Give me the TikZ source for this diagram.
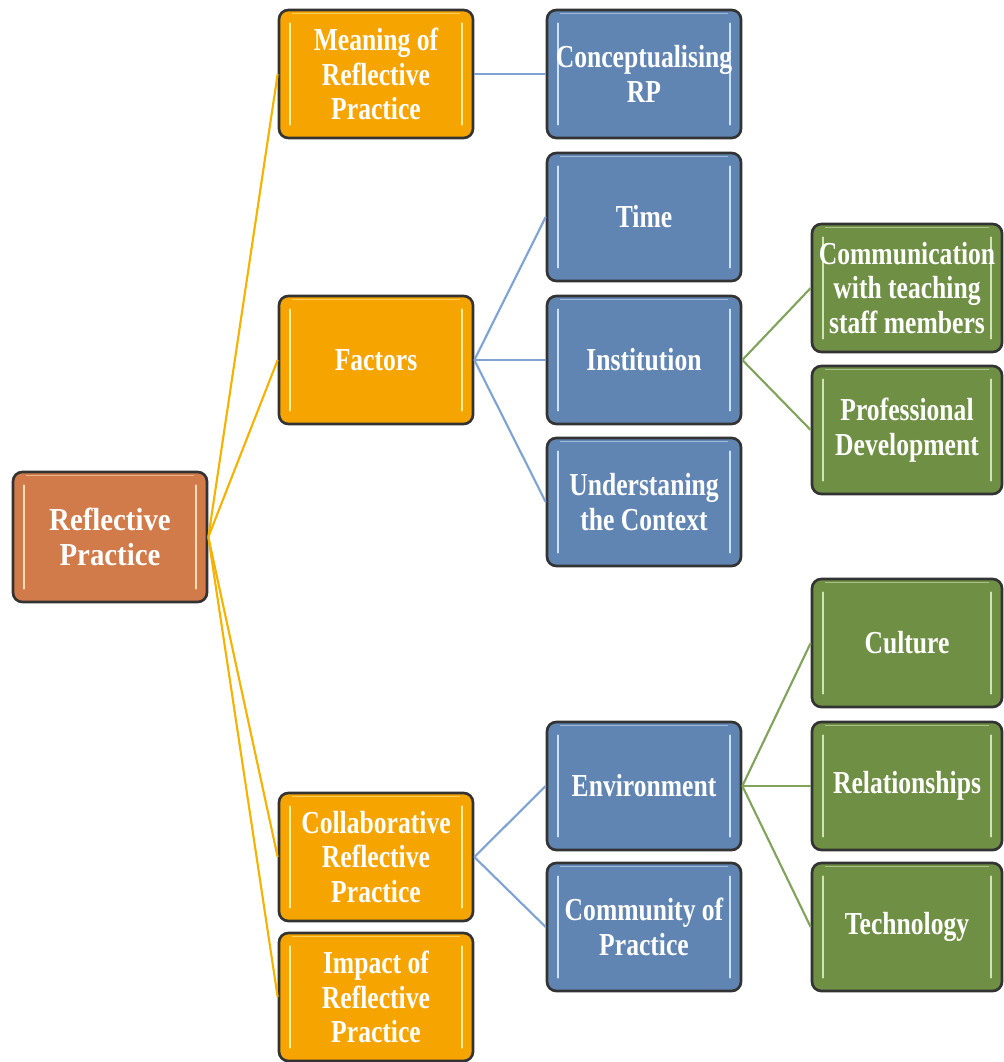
\documentclass[tikz,border=0pt]{standalone}
\usepackage{fontspec}
\newfontfamily\boxfont[FakeStretch=0.8]{Liberation Serif}
\newfontfamily\rootfont[FakeStretch=0.9]{Liberation Serif}
\definecolor{orangeF}{RGB}{246,164,0}
\definecolor{brownF}{RGB}{209,122,74}
\definecolor{blueF}{RGB}{96,133,178}
\definecolor{greenF}{RGB}{111,143,69}
\definecolor{orangeH}{RGB}{255,238,150}
\definecolor{brownH}{RGB}{250,220,185}
\definecolor{blueH}{RGB}{200,224,248}
\definecolor{greenH}{RGB}{210,226,180}
\definecolor{orangeL}{RGB}{245,178,0}
\definecolor{blueL}{RGB}{126,163,212}
\definecolor{greenL}{RGB}{130,163,92}
\tikzset{
  box/.style 2 args={draw=black!80, line width=2pt, rounded corners=7pt, fill=#1,
    minimum width=145.5pt, minimum height=96pt, inner sep=0pt, align=center,
    text=white, font=\boxfont\bfseries\fontsize{24}{26}\selectfont,
    path picture={
      \draw[#2, line width=1.6pt, line cap=round]
        ([xshift=8pt,yshift=-10pt]path picture bounding box.north west) --
        ([xshift=8pt,yshift=10pt]path picture bounding box.south west);
      \draw[#2, line width=1.6pt, line cap=round]
        ([xshift=-8pt,yshift=-10pt]path picture bounding box.north east) --
        ([xshift=-8pt,yshift=10pt]path picture bounding box.south east);
      \draw[#2, line width=1.2pt, opacity=0.6]
        ([xshift=10pt,yshift=-2.5pt]path picture bounding box.north west) --
        ([xshift=-10pt,yshift=-2.5pt]path picture bounding box.north east);
    }},
  rootbox/.style={box={brownF}{brownH}, minimum height=97.5pt,
    font=\rootfont\bfseries\fontsize{24}{26}\selectfont},
  obox/.style={box={orangeF}{orangeH}},
  bbox/.style={box={blueF}{blueH}},
  gbox/.style={box={greenF}{greenH}, minimum width=142.5pt},
  oline/.style={draw=orangeL, line width=1.6pt},
  bline/.style={draw=blueL, line width=1.6pt},
  gline/.style={draw=greenL, line width=1.6pt},
}
\begin{document}
\begin{tikzpicture}[x=0.75pt,y=-0.75pt]
\path[use as bounding box] (0,0) rectangle (1003,1062);
% column 1
\node[rootbox] (rp) at (110,537) {Reflective\\Practice};
% column 2
\node[obox] (mean) at (376,74) {Meaning of\\Reflective\\Practice};
\node[obox] (fact) at (376,360) {Factors};
\node[obox] (coll) at (376,857) {Collaborative\\Reflective\\Practice};
\node[obox] (imp) at (376,997) {Impact of\\Reflective\\Practice};
% column 3
\node[bbox] (conc) at (644,74) {Conceptualising\\RP};
\node[bbox] (time) at (644,217) {Time};
\node[bbox] (inst) at (644,360) {Institution};
\node[bbox] (und) at (644,502) {Understaning\\the Context};
\node[bbox] (env) at (644,786) {Environment};
\node[bbox] (cop) at (644,927) {Community of\\Practice};
% column 4
\node[gbox] (comm) at (907,288) {Communication\\with teaching\\staff members};
\node[gbox] (prof) at (907,430) {Professional\\Development};
\node[gbox] (cult) at (907,643) {Culture};
\node[gbox] (rel) at (907,786) {Relationships};
\node[gbox] (tech) at (907,927) {Technology};
% connectors
\begin{scope}[on background layer/.style={}]
\draw[oline] (rp.east) -- (mean.west);
\draw[oline] (rp.east) -- (fact.west);
\draw[oline] (rp.east) -- (coll.west);
\draw[oline] (rp.east) -- (imp.west);
\draw[bline] (mean.east) -- (conc.west);
\draw[bline] (fact.east) -- (time.west);
\draw[bline] (fact.east) -- (inst.west);
\draw[bline] (fact.east) -- (und.west);
\draw[bline] (coll.east) -- (env.west);
\draw[bline] (coll.east) -- (cop.west);
\draw[gline] (inst.east) -- (comm.west);
\draw[gline] (inst.east) -- (prof.west);
\draw[gline] (env.east) -- (cult.west);
\draw[gline] (env.east) -- (rel.west);
\draw[gline] (env.east) -- (tech.west);
\end{scope}
\end{tikzpicture}
\end{document}
